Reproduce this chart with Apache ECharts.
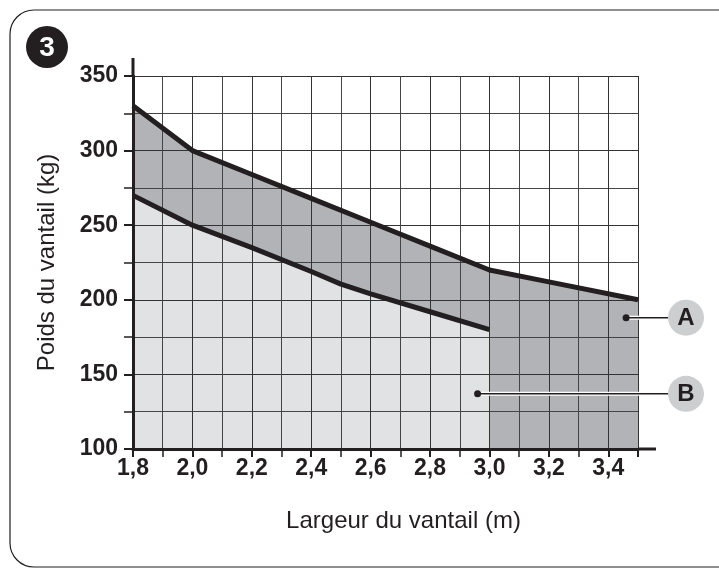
<!DOCTYPE html>
<html>
<head>
<meta charset="utf-8">
<script src="https://cdn.jsdelivr.net/npm/echarts@6/dist/echarts.min.js"></script>
<style>
  html, body { margin: 0; padding: 0; background: #fff; }
  #chart { width: 719px; height: 569px; }
</style>
</head>
<body>
<div id="chart"></div>
<script>
// weight limits per leaf width
const widthsA = [1.8, 2.0, 2.2, 2.4, 2.6, 2.8, 3.0, 3.2, 3.5];
const limitA = [330, 300, 284, 268, 252, 236, 220, 212, 200];
const widthsB = [1.8, 2.0, 2.2, 2.4, 2.5, 2.6, 2.8, 3.0];
const limitB = [270, 250, 235, 219, 210.5, 204, 192, 180];
// where the A / B callout dots sit
const markA = [3.46, 188];
const markB = [2.96, 137];

const FONT = '"Liberation Sans", Arial, Helvetica, sans-serif';
const INK = '#231f20';
const DARK = '#b2b3b6';
const LIGHT = '#e1e2e4';

const pairs = (xs, ys) => xs.map((x, i) => [x, ys[i]]);
const comma = v => v.toFixed(1).replace('.', ',');

const chart = echarts.init(document.getElementById('chart'), null, { renderer: 'canvas' });

chart.setOption({
  animation: false,
  grid: { left: 133, top: 76, right: 81, bottom: 120 },
  xAxis: {
    type: 'value', min: 1.8, max: 3.5, interval: 0.2, z: 3,
    name: 'Largeur du vantail (m)', nameLocation: 'middle', nameGap: 60,
    nameTextStyle: { fontFamily: FONT, fontSize: 24, color: INK, padding: [0, 0, 0, 36] },
    axisLine: { onZero: false, lineStyle: { color: INK, width: 3 } },
    axisTick: { length: 8, lineStyle: { color: INK, width: 2 } },
    minorTick: { show: true, splitNumber: 2, length: 8, lineStyle: { color: INK, width: 1.5 } },
    splitLine: { lineStyle: { color: '#333', width: 1 } },
    minorSplitLine: { show: true, lineStyle: { color: '#444', width: 1 } },
    axisLabel: {
      margin: 8, fontFamily: FONT, fontSize: 23, fontWeight: 'bold', color: INK,
      showMaxLabel: false, formatter: comma
    }
  },
  yAxis: {
    type: 'value', min: 100, max: 350, interval: 50, z: 3,
    name: 'Poids du vantail (kg)', nameLocation: 'middle', nameGap: 74,
    nameTextStyle: { fontFamily: FONT, fontSize: 24, color: INK },
    axisLine: { show: true, onZero: false, lineStyle: { color: INK, width: 3 } },
    axisTick: { show: true, length: 9, lineStyle: { color: INK, width: 2 } },
    minorTick: { show: true, splitNumber: 2, length: 9, lineStyle: { color: INK, width: 1.5 } },
    splitLine: { lineStyle: { color: '#333', width: 1 } },
    minorSplitLine: { show: true, lineStyle: { color: '#444', width: 1 } },
    axisLabel: { margin: 15, fontFamily: FONT, fontSize: 23, fontWeight: 'bold', color: INK }
  },
  series: [
    {
      name: 'A area', type: 'line', z: 1, symbol: 'none', silent: true,
      data: pairs(widthsA, limitA),
      lineStyle: { width: 0 }, areaStyle: { color: DARK, opacity: 1, origin: 'start' }
    },
    {
      name: 'B area', type: 'line', z: 2, symbol: 'none', silent: true,
      data: pairs(widthsB, limitB),
      lineStyle: { width: 0 }, areaStyle: { color: LIGHT, opacity: 1, origin: 'start' }
    },
    {
      name: 'A', type: 'line', z: 5, symbol: 'none',
      data: pairs(widthsA, limitA),
      lineStyle: { color: INK, width: 5, join: 'round' }
    },
    {
      name: 'B', type: 'line', z: 5, symbol: 'none',
      data: pairs(widthsB, limitB),
      lineStyle: { color: INK, width: 5, join: 'round' }
    }
  ]
});

// decorations: frame, figure badge, axis overhangs, A/B callouts
function callout(letter, mark) {
  const p = chart.convertToPixel({ gridIndex: 0 }, mark);
  const cx = 686;
  return [
    { type: 'line', z: 10, shape: { x1: p[0], y1: p[1], x2: cx - 17, y2: p[1] },
      style: { stroke: '#fff', lineWidth: 4 } },
    { type: 'line', z: 11, shape: { x1: p[0], y1: p[1], x2: cx - 17, y2: p[1] },
      style: { stroke: INK, lineWidth: 1.5 } },
    { type: 'circle', z: 11, shape: { cx: p[0], cy: p[1], r: 3.5 }, style: { fill: INK } },
    { type: 'circle', z: 12, shape: { cx: cx, cy: p[1], r: 18 }, style: { fill: '#cdced0' } },
    { type: 'text', z: 13, x: cx, y: p[1] + 1,
      style: { text: letter, fill: INK, font: 'bold 24px ' + FONT, align: 'center', verticalAlign: 'middle' } }
  ];
}

const origin = chart.convertToPixel({ gridIndex: 0 }, [1.8, 100]);
const topY = chart.convertToPixel({ gridIndex: 0 }, [1.8, 350])[1];
const rightX = chart.convertToPixel({ gridIndex: 0 }, [3.5, 100])[0];

chart.setOption({
  graphic: [
    { type: 'rect', z: -1, shape: { x: 10, y: 10, width: 760, height: 557, r: 24 },
      style: { fill: 'none', stroke: INK, lineWidth: 1.2 } },
    { type: 'circle', z: 10, shape: { cx: 47, cy: 47, r: 21 }, style: { fill: INK } },
    { type: 'text', z: 11, x: 47, y: 48,
      style: { text: '3', fill: '#fff', font: 'bold 28px ' + FONT, align: 'center', verticalAlign: 'middle' } },
    { type: 'line', z: 10, shape: { x1: origin[0], y1: topY, x2: origin[0], y2: 58 },
      style: { stroke: INK, lineWidth: 3 } },
    { type: 'line', z: 10, shape: { x1: rightX, y1: origin[1], x2: 656, y2: origin[1] },
      style: { stroke: INK, lineWidth: 3 } }
  ].concat(callout('A', markA), callout('B', markB))
});
</script>
</body>
</html>
